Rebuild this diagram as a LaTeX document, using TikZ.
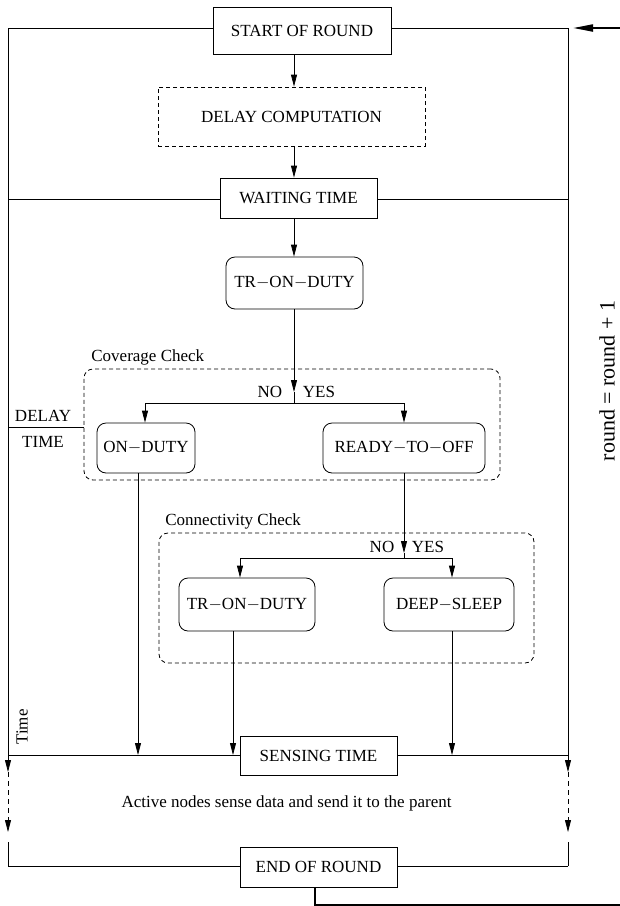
\documentclass[tikz,border=0pt]{standalone}
\usepackage{fontspec}
\setmainfont{Liberation Serif}
\usetikzlibrary{arrows.meta}
\newcommand{\fsz}{\fontsize{17}{20}\selectfont}
\newcommand{\fbig}{\fontsize{22}{26}\selectfont}
\tikzset{
  base/.style={draw, line width=0.8pt, inner sep=0pt, font=\fsz, align=center},
  sqbox/.style={base, rectangle},
  rbox/.style={base, rounded corners=9pt},
  dsq/.style={base, dash pattern=on 4pt off 3pt},
  drnd/.style={base, rounded corners=9pt, dash pattern=on 4pt off 3pt},
  lbl/.style={inner sep=0pt, font=\fsz},
  arr/.style={-{Triangle[length=12pt,width=6pt]}},
  bigarr/.style={line width=2pt, -{Triangle[length=20pt,width=7pt]}},
}
\begin{document}
\begin{tikzpicture}[x=1pt,y=-1pt,line width=0.8pt]
\useasboundingbox (0,0) rectangle (620,906);

% boxes
\node[sqbox, minimum width=178pt, minimum height=47pt] (start) at (302,30.5) {START OF ROUND};
\node[dsq, minimum width=267pt, minimum height=59pt] (delay) at (291.5,116.5) {DELAY COMPUTATION};
\node[sqbox, minimum width=157pt, minimum height=40pt] (wait) at (298.5,198) {WAITING TIME};
\node[rbox, minimum width=137pt, minimum height=52pt] (tr1) at (294.5,283) {TR$-$ON$-$DUTY};

\node[drnd, minimum width=416pt, minimum height=111pt] (covbox) at (292,424.5) {};
\node[lbl, anchor=west] (covlbl) at (91,357) {Coverage Check};
\node[rbox, minimum width=98pt, minimum height=50pt] (on) at (146,448) {ON$-$DUTY};
\node[rbox, minimum width=162pt, minimum height=50pt] (ready) at (404,448) {READY$-$TO$-$OFF};
\node[lbl] (no1) at (270,392) {NO};
\node[lbl] (yes1) at (319,392) {YES};

\node[drnd, minimum width=375pt, minimum height=130pt] (connbox) at (346.5,598) {};
\node[lbl, anchor=west] (connlbl) at (165,521) {Connectivity Check};
\node[rbox, minimum width=136pt, minimum height=53pt] (tr2) at (247,604.5) {TR$-$ON$-$DUTY};
\node[rbox, minimum width=130pt, minimum height=53pt] (deep) at (449,604.5) {DEEP$-$SLEEP};
\node[lbl] (no2) at (382,547) {NO};
\node[lbl] (yes2) at (428,547) {YES};

\node[sqbox, minimum width=157pt, minimum height=39pt] (sense) at (318.5,755.5) {SENSING TIME};
\node[lbl] (note) at (286.5,803) {Active nodes sense data and send it to the parent};
\node[sqbox, minimum width=157pt, minimum height=40pt] (end) at (318.5,867) {END OF ROUND};

\node[lbl] (delaylbl) at (43,416) {DELAY};
\node[lbl] (timelbl) at (43,442) {TIME};
\node[lbl, rotate=90] (timeax) at (22,727) {Time};
\node[inner sep=0pt, font=\fbig, rotate=90] (roundlbl) at (607,381) {round = round + 1};

% frame coordinates
\coordinate (tl) at (8,28);
\coordinate (tr) at (568,28);
\coordinate (wl) at (8,199);
\coordinate (wr) at (568,199);
\coordinate (sl) at (8,755);
\coordinate (sr) at (568,755);
\coordinate (el) at (8,866);
\coordinate (er) at (568,866);

\draw (tl) -- (tl -| start.west);
\draw (start.east |- tr) -- (tr);
\draw (tl) -- (sl);
\draw (tr) -- (sr);
\draw (wl) -- (wl -| wait.west);
\draw (wait.east |- wr) -- (wr);
\draw (sl) -- (sl -| sense.west);
\draw (sense.east |- sr) -- (sr);
\draw (el) -- (el -| end.west);
\draw (end.east |- er) -- (er);

% delay time line
\coordinate (dl) at (8,427);
\draw (dl) -- (dl -| covbox.west);

% dashed time arrows
\coordinate (la1) at (8,772);
\coordinate (la2) at (8,832);
\coordinate (la3) at (8,842);
\draw[arr] (sl) -- (la1);
\draw[arr, dash pattern=on 5pt off 4pt] (la1) -- (la2);
\draw (la3) -- (el);
\coordinate (ra1) at (568,772);
\coordinate (ra2) at (568,832);
\coordinate (ra3) at (568,842);
\draw[arr] (sr) -- (ra1);
\draw[arr, dash pattern=on 5pt off 4pt] (ra1) -- (ra2);
\draw (ra3) -- (er);

% main flow
\coordinate (ax) at (294,0);
\draw[arr] (start.south -| ax) -- (delay.north -| ax);
\draw[arr] (delay.south -| ax) -- (wait.north -| ax);
\draw[arr] (wait.south -| ax) -- (tr1.north -| ax);

\coordinate (c1) at (294,392);
\coordinate (c1j) at (294,403);
\draw[arr] (tr1.south -| c1) -- (c1);
\draw (c1) -- (c1j);
\coordinate (j1l) at (145,403);
\coordinate (j1r) at (404,403);
\draw (j1l) -- (j1r);
\draw[arr] (j1l) -- (on.north -| j1l);
\draw[arr] (j1r) -- (ready.north -| j1r);

\coordinate (o1) at (138,0);
\draw[arr] (on.south -| o1) -- (sl -| o1);

\coordinate (c2) at (404,553);
\coordinate (c2j) at (404,558);
\draw[arr] (ready.south -| c2) -- (c2);
\draw (c2) -- (c2j);
\coordinate (j2l) at (240,558);
\coordinate (j2r) at (452,558);
\draw (j2l) -- (j2r);
\draw[arr] (j2l) -- (tr2.north -| j2l);
\draw[arr] (j2r) -- (deep.north -| j2r);

\coordinate (o2) at (233,0);
\coordinate (o3) at (452,0);
\draw[arr] (tr2.south -| o2) -- (sl -| o2);
\draw[arr] (deep.south -| o3) -- (sl -| o3);

% feedback loop
\coordinate (fb1) at (315,905);
\coordinate (fb2) at (640,905);
\coordinate (fb3) at (640,28);
\coordinate (fbtip) at (573,28);
\draw[bigarr] (end.south -| fb1) -- (fb1) -- (fb2) -- (fb3) -- (fbtip);
\end{tikzpicture}
\end{document}
